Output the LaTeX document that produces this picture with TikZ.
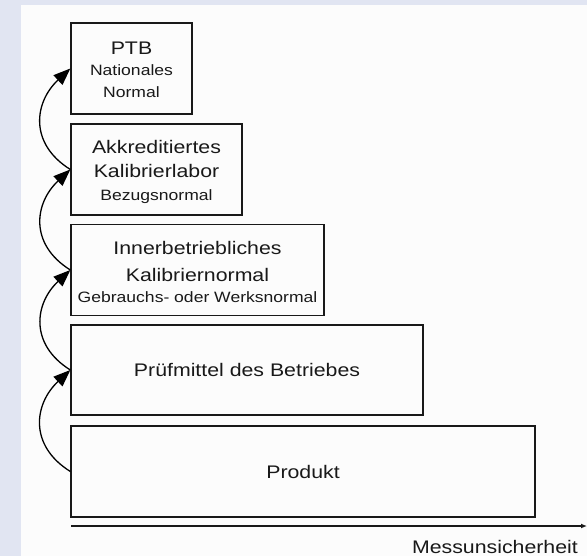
\documentclass[tikz,border=0pt]{standalone}
\usepackage{fontspec}
\setmainfont[FakeStretch=1.17]{Liberation Sans}
\usetikzlibrary{arrows.meta}
\definecolor{bandblue}{RGB}{225,229,242}
\definecolor{paper}{RGB}{252,252,252}
\definecolor{ink}{RGB}{25,25,25}
\begin{document}
\begin{tikzpicture}[x=1pt,y=1pt,
  stepbox/.style={draw=ink, line width=1.3pt, inner sep=0pt, minimum width=#1, minimum height=91pt},
  mainf/.style={text=ink, inner sep=0pt, anchor=base, font=\fontsize{18.2}{22}\selectfont},
  subf/.style={text=ink, inner sep=0pt, anchor=base, font=\fontsize{15}{19}\selectfont},
  link/.style={draw=black, line width=1.3pt, -{Triangle[length=17pt,width=13pt]}, looseness=1.25}
]
\useasboundingbox (0,0) rectangle (587,-556);
\fill[bandblue] (0,0) rectangle (587,-556);
\fill[paper] (21,-5) rectangle (587,-556);

% boxes
\node[stepbox=121pt] (ptb) at (131.5,-68.5) {};
\node[stepbox=171pt] (akk) at (156.5,-169.5) {};
\node[stepbox=253pt] (inn) at (197.5,-270) {};
\node[stepbox=352pt, minimum height=90pt] (pruef) at (247,-370) {};
\node[stepbox=464pt] (prod) at (303,-471.5) {};

% texts
\node[mainf] (t1) at (131.5,-55) {PTB};
\node[subf]  (t2) at (131.5,-76) {Nationales};
\node[subf]  (t3) at (131.5,-98) {Normal};
\node[mainf] (t4) at (156.5,-154) {Akkreditiertes};
\node[mainf] (t5) at (156.5,-178) {Kalibrierlabor};
\node[subf]  (t6) at (156.5,-201) {Bezugsnormal};
\node[mainf] (t7) at (197.5,-255) {Innerbetriebliches};
\node[mainf] (t8) at (197.5,-282) {Kalibriernormal};
\node[subf]  (t9) at (197.5,-303) {Gebrauchs- oder Werksnormal};
\node[mainf] (t10) at (247,-377) {Prüfmittel des Betriebes};
\node[mainf] (t11) at (303,-478) {Produkt};

% curved arrows
\draw[link] (akk.west) to[out=148,in=223] (ptb.west);
\draw[link] (inn.west) to[out=148,in=223] (akk.west);
\draw[link] (pruef.west) to[out=148,in=223] (inn.west);
\draw[link] (prod.west) to[out=148,in=223] (pruef.west);

% axis
\coordinate (ax0) at (71,-526);
\coordinate (ax1) at (587,-526);
\draw[draw=ink, line width=1.3pt, -{Latex[length=6pt,width=5pt]}] (ax0) -- (ax1);
\node[mainf, anchor=base east] (mu) at (578,-553) {Messunsicherheit};
\end{tikzpicture}
\end{document}
